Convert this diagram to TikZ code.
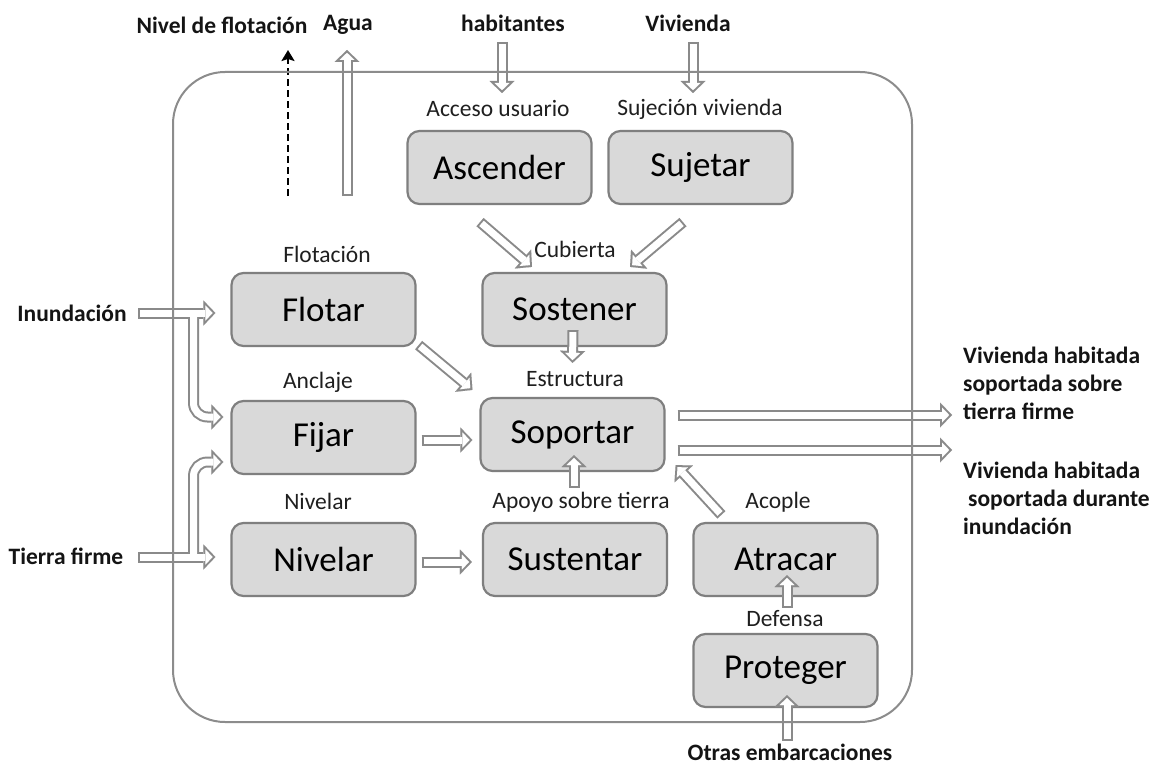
\documentclass[tikz,border=0pt]{standalone}
\usepackage{fontspec}
\setmainfont{Carlito}
\usetikzlibrary{arrows.meta,calc}
\definecolor{boxfill}{HTML}{D9D9D9}
\definecolor{boxline}{HTML}{7F7F7F}
\definecolor{agray}{HTML}{8A8A8A}
\definecolor{framegray}{HTML}{8C8C8C}

\newcommand\hollowarrows[1]{%
  % external inputs / outputs
  \draw[#1] (habin) -- (habend);
  \draw[#1] (vivin) -- (vivend);
  \draw[#1] (aguastart) -- (aguaend);
  \draw[#1] (inunin) -- ($(flo.west)+(-15,3.5)$);
  \draw[#1,rounded corners=14pt] (inunbr) -- ++(0,104) -- ($(fij.west)+(-7,-20.5)$);
  \draw[#1] (tierrain) -- ($(niv.west)+(-15,-2.5)$);
  \draw[#1,rounded corners=14pt] (tierrabr) -- ++(0,-95) -- ($(fij.west)+(-7,24.5)$);
  \draw[#1] (otrasin) -- ($(pro.south)+(1.5,-13)$);
  \draw[#1] ($(sop.east)+(12,-19.5)$) -- (outA);
  \draw[#1] ($(sop.east)+(12,15.5)$) -- (outB);
  % internal flows
  \draw[#1] ($(asc.south)+(-19.5,17)$) -- ($(sos.north)+(-42.5,-5)$);
  \draw[#1] ($(suj.south)+(-17.5,17)$) -- ($(sos.north)+(55.5,-5)$);
  \draw[#1] ($(sos.south)+(-1.5,-17)$) -- ($(sop.north)+(0,-34)$);
  \draw[#1] ($(flo.south east)+(2,-2)$) -- ($(sop.north west)+(-7,-7)$);
  \draw[#1] ($(fij.east)+(5,2.5)$) -- ($(sop.west)+(-7,5.5)$);
  \draw[#1] ($(niv.east)+(5,2.5)$) -- ($(sus.west)+(-10,2.5)$);
  \draw[#1] ($(sus.north)+(-1,-34)$) -- ($(sop.south)+(1.5,-17)$);
  \draw[#1] ($(atr.north west)+(29,-7)$) -- ($(sop.south east)+(10,-7)$);
  \draw[#1] ($(pro.north)+(1.5,-25)$) -- ($(atr.south)+(1.5,-22)$);
}

\begin{document}
\begin{tikzpicture}[x=1pt,y=-1pt,
  box/.style={draw=boxline, fill=boxfill, line width=2.2pt, rounded corners=12pt,
    minimum width=184pt, minimum height=73pt, inner sep=0pt,
    font=\fontsize{35}{41}\selectfont},
  lab/.style={font=\fontsize{23.5}{28}\selectfont, text=black!88, inner sep=0pt},
  ext/.style={font=\bfseries\fontsize{23.5}{28}\selectfont, text=black!92, inner sep=0pt},
  hout/.style={line width=11pt, draw=agray,
    -{Triangle[length=12pt,width=25pt,line width=0.01pt]}},
  hin/.style={line width=7pt, draw=white, shorten <=2pt, shorten >=2.8pt,
    -{Triangle[length=7.2pt,width=15pt,line width=0.01pt]}}
  ]
\useasboundingbox (0,0) rectangle (1157,765);
\fill[white] (0,0) rectangle (1157,765);

% function boxes
\node[box] (asc) at (499.5,167.5) {Ascender};
\node[box] (suj) at (700.5,167.5) {Sujetar};
\node[box] (flo) at (323.5,309.5) {Flotar};
\node[box] (sos) at (574.5,309.5) {Sostener};
\node[box] (fij) at (323.5,437.5) {Fijar};
\node[box] (sop) at (572.5,434.5) {Soportar};
\node[box] (niv) at (323.5,559.5) {Nivelar};
\node[box] (sus) at (575,559.5) {Sustentar};
\node[box] (atr) at (785.5,559.5) {Atracar};
\node[box] (pro) at (785.5,670.5) {Proteger};

% flow labels
\node[lab] (lacc) at (498,109) {Acceso usuario};
\node[lab] (lsuj) at (700,109) {Sujeción vivienda};
\node[lab] (lflo) at (327,254) {Flotación};
\node[lab] (lcub) at (575,249) {Cubierta};
\node[lab] (lanc) at (318,382) {Anclaje};
\node[lab] (lest) at (575,379) {Estructura};
\node[lab] (lniv) at (318,501) {Nivelar};
\node[lab] (lapo) at (581,502) {Apoyo sobre tierra};
\node[lab] (laco) at (778,502) {Acople};
\node[lab] (ldef) at (785,619) {Defensa};

% external labels
\node[ext] (tnivel) at (222,25) {Nivel de flotación};
\node[ext] (tagua) at (348,25) {Agua};
\node[ext] (thab) at (513,23) {habitantes};
\node[ext] (tviv) at (688,23) {Vivienda};
\node[ext] (tinun) at (72,313) {Inundación};
\node[ext] (ttierra) at (66,556) {Tierra firme};
\node[ext] (totras) at (790,752) {Otras embarcaciones};
\node[ext, anchor=west, align=left] (tout1) at (963,383)
  {Vivienda habitada\\soportada sobre\\tierra firme};
\node[ext, anchor=west, align=left] (tout2) at (963,498)
  {Vivienda habitada\\\hspace*{5pt}soportada durante\\inundación};

% free ends of connectors
\coordinate (habin) at (502,42);
\coordinate (habend) at (502,93);
\coordinate (vivin) at (693,42);
\coordinate (vivend) at (693,93);
\coordinate (aguastart) at (347,196);
\coordinate (aguaend) at (347,50);
\coordinate (dashstart) at (288,196);
\coordinate (dashend) at (288,50);
\coordinate (inunin) at (138,313);
\coordinate (inunbr) at (193.5,313);
\coordinate (tierrain) at (138,557);
\coordinate (tierrabr) at (193.5,557);
\coordinate (otrasin) at (787,741);
\coordinate (outA) at (952,415);
\coordinate (outB) at (952,450);

% hollow arrows: outline pass, then interior pass
\hollowarrows{hout}
\hollowarrows{hin}

% dashed arrow
\draw[black, line width=2.4pt, dash pattern=on 7pt off 4pt,
  -{Stealth[length=11pt,width=13pt,inset=2pt]}] (dashstart) -- (dashend);

% system boundary
\draw[framegray, line width=2pt, rounded corners=52pt] (173,72) rectangle (912,722);
\end{tikzpicture}
\end{document}
